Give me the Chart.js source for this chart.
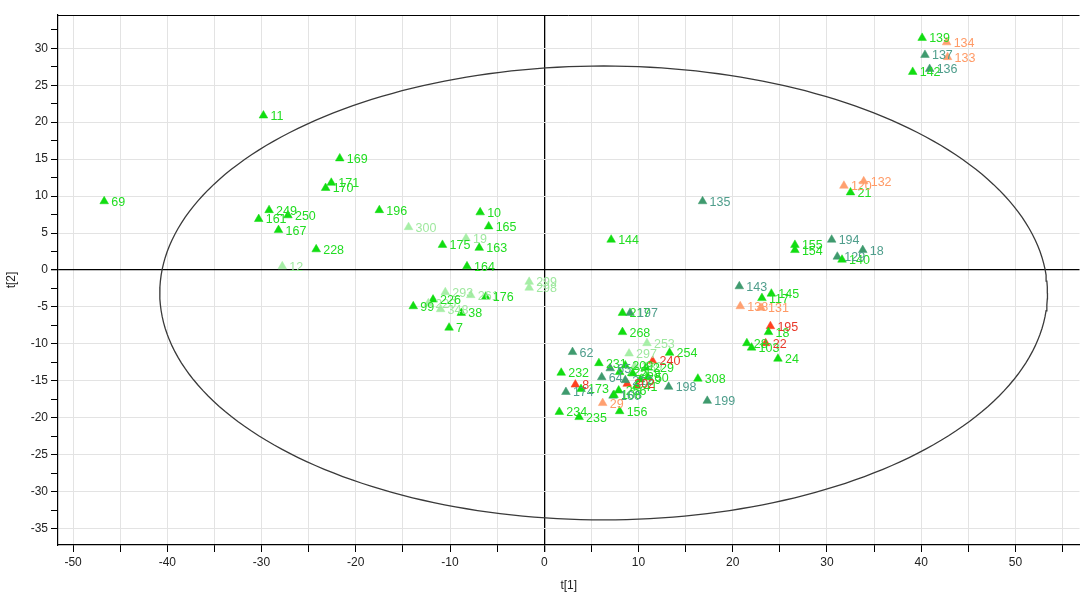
<!DOCTYPE html>
<html>
<head>
<meta charset="utf-8">
<script src="https://cdn.jsdelivr.net/npm/chart.js@4.4.1/dist/chart.umd.min.js"></script>
<style>
html,body{margin:0;padding:0;background:#fff;}
#wrap{width:1085px;height:593px;}
</style>
</head>
<body>
<div id="wrap"><canvas id="c" width="1085" height="593"></canvas></div>
<script>
// ---- Data (PCA scores t[1], t[2]) ----
const brightIds = ['69','11','169','171','170','249','161','250','167','228','196','10','165','175','163','164','99','226','176','38','7','144','21','155','154','140','145','117','18','28','103','24','139','142','217','268','254','231','232','308','173','156','234','235','225','258','59','41','256','108','50','229','209'];
const brightX = [-46.7,-29.8,-21.7,-22.6,-23.2,-29.2,-30.3,-27.2,-28.2,-24.2,-17.5,-6.8,-5.9,-10.8,-6.9,-8.2,-13.9,-11.8,-6.2,-8.8,-10.1,7.1,32.5,26.6,26.6,31.6,24.1,23.1,23.8,21.5,22.0,24.8,40.1,39.1,8.3,8.3,13.3,5.8,1.8,16.3,3.9,8.0,1.6,3.7,8.0,9.4,10.2,9.8,7.9,7.4,11.0,10.8,8.6];
const brightY = [9.3,20.9,15.1,11.8,11.1,8.1,6.9,7.4,5.4,2.8,8.1,7.8,5.9,3.4,3.0,0.5,-4.9,-4.0,-3.6,-5.8,-7.8,4.1,10.5,3.4,2.7,1.4,-3.2,-3.8,-8.4,-9.9,-10.5,-12.0,31.4,26.8,-5.8,-8.4,-11.2,-12.6,-13.9,-14.7,-16.1,-19.1,-19.2,-19.9,-13.8,-14.0,-14.8,-15.7,-16.3,-16.9,-14.5,-13.2,-12.9];

const lightIds = ['12','300','19','299','298','293','261','220','348','253','297','289'];
const lightX = [-27.8,-14.4,-8.3,-1.6,-1.6,-10.5,-7.8,-12.3,-11.0,10.9,9.0,9.6];
const lightY = [0.5,5.8,4.3,-1.6,-2.4,-3.0,-3.4,-4.5,-5.3,-9.9,-11.3,-13.0];

const seaIds = ['135','194','18','129','143','137','136','197','62','64','198','199','174','65','212','160'];
const seaX = [16.8,30.5,33.8,31.1,20.7,40.4,40.9,9.1,3.0,6.1,13.2,17.3,2.3,7.0,8.6,7.3];
const seaY = [9.3,4.1,2.7,1.8,-2.2,29.1,27.2,-5.8,-11.1,-14.5,-15.8,-17.7,-16.5,-13.3,-14.9,-17.0];

const orangeIds = ['120','132','134','133','138','131','29'];
const orangeX = [31.8,33.9,42.7,42.8,20.8,23.0,6.2];
const orangeY = [11.4,12.0,30.8,28.8,-4.9,-5.1,-18.0];

const redIds = ['195','22','240','302','8'];
const redX = [24.0,23.5,11.5,8.8,3.3];
const redY = [-7.6,-9.9,-12.3,-15.4,-15.5];

// Confidence ellipse (centre and semi-axes)
const ellipseCenter = [6.3, -3.1];
const ellipseRadii = [47.1, 30.7];

// Axis tick settings
const xTickStep = 5, xLabelStep = 10;
const yTickStep = 2.5, yLabelStep = 5;
// ---------------------------------

function pts(xs, ys){ return xs.map((x,i)=>({x:x, y:ys[i]})); }
const ellipsePts = [];
for(let i=0;i<=240;i++){
  const a = i/240*Math.PI*2;
  ellipsePts.push({x: ellipseCenter[0]+ellipseRadii[0]*Math.cos(a), y: ellipseCenter[1]+ellipseRadii[1]*Math.sin(a)});
}

function grp(ids, xs, ys, fill, text){
  return {type:'scatter', data: pts(xs,ys), ids: ids, textColor: text,
    pointStyle:'triangle', pointRadius:5, pointHoverRadius:5,
    backgroundColor: fill, borderColor: fill, borderWidth: 0.5};
}

const labelPlugin = {
  id:'pointLabels',
  afterDatasetsDraw(chart){
    const ctx = chart.ctx;
    ctx.save();
    ctx.font = '12.5px "Liberation Sans", Arial, sans-serif';
    ctx.textBaseline = 'middle';
    ctx.textAlign = 'left';
    chart.data.datasets.forEach((ds, di)=>{
      if(!ds.ids) return;
      const meta = chart.getDatasetMeta(di);
      ctx.fillStyle = ds.textColor;
      meta.data.forEach((el, j)=>{
        ctx.fillText(ds.ids[j], el.x + 7, el.y + 1);
      });
    });
    ctx.restore();
  }
};
const framePlugin = {
  id:'frame',
  afterDraw(chart){
    const {ctx, chartArea:a} = chart;
    ctx.save();
    ctx.strokeStyle = '#000'; ctx.lineWidth = 1;
    ctx.beginPath();
    ctx.moveTo(a.left, a.top+0.5); ctx.lineTo(a.right, a.top+0.5);
    ctx.stroke();
    ctx.restore();
  }
};

const tickFont = {family:'"Liberation Sans", Arial, sans-serif', size:12};

new Chart(document.getElementById('c'), {
  data:{
    datasets:[
      {type:'line', data: ellipsePts, borderColor:'#3a3a3a', borderWidth:1.3, pointRadius:0, fill:false, tension:0},
      grp(lightIds, lightX, lightY, '#a6eea6', '#9fe89f'),
      grp(brightIds, brightX, brightY, '#11dd11', '#22dd22'),
      grp(seaIds, seaX, seaY, '#3f9a6e', '#4f9e8c'),
      grp(orangeIds, orangeX, orangeY, '#ffa070', '#ff9a66'),
      grp(redIds, redX, redY, '#ff4020', '#e8392a')
    ]
  },
  options:{
    responsive:false, animation:false,
    layout:{padding:{top:15, right:0, left:4, bottom:0}},
    plugins:{legend:{display:false}, tooltip:{enabled:false}},
    scales:{
      x:{type:'linear', min:-51.6, max:56.8,
        afterFit(s){ s.height = 48; },
        border:{display:true, color:'#000', width:1.2},
        grid:{color:(c)=> c.tick && c.tick.value===0 ? '#000' : '#e3e3e3',
              lineWidth:(c)=> c.tick && c.tick.value===0 ? 1.3 : 1,
              tickColor:'#000', tickLength:7, drawTicks:true},
        ticks:{stepSize:xTickStep, includeBounds:false, autoSkip:false, maxRotation:0, padding:3,
          color:'#222', font:tickFont,
          callback:(v)=> (Math.round(v) % xLabelStep === 0) ? String(v) : ''},
        title:{display:true, text:'t[1]', color:'#222', font:tickFont, padding:{top:0,bottom:0}}
      },
      y:{type:'linear', min:-37.2, max:34.5,
        afterFit(s){ s.width = 54; },
        border:{display:true, color:'#000', width:1.2},
        grid:{color:(c)=> { if(!c.tick) return '#e3e3e3'; const v=c.tick.value; if(v===0) return '#000'; return (Math.abs(v % yLabelStep) < 1e-6) ? '#e3e3e3' : 'rgba(0,0,0,0)'; },
              lineWidth:(c)=> c.tick && c.tick.value===0 ? 1.3 : 1,
              tickColor:'#000', tickLength:7, drawTicks:true},
        ticks:{stepSize:yTickStep, includeBounds:false, autoSkip:false, padding:3,
          color:'#222', font:tickFont,
          callback:(v)=> (Math.abs(v % yLabelStep) < 1e-6) ? String(v) : ''},
        title:{display:true, text:'t[2]', color:'#222', font:tickFont, padding:{top:0,bottom:2}}
      }
    }
  },
  plugins:[labelPlugin, framePlugin]
});
</script>
</body>
</html>
